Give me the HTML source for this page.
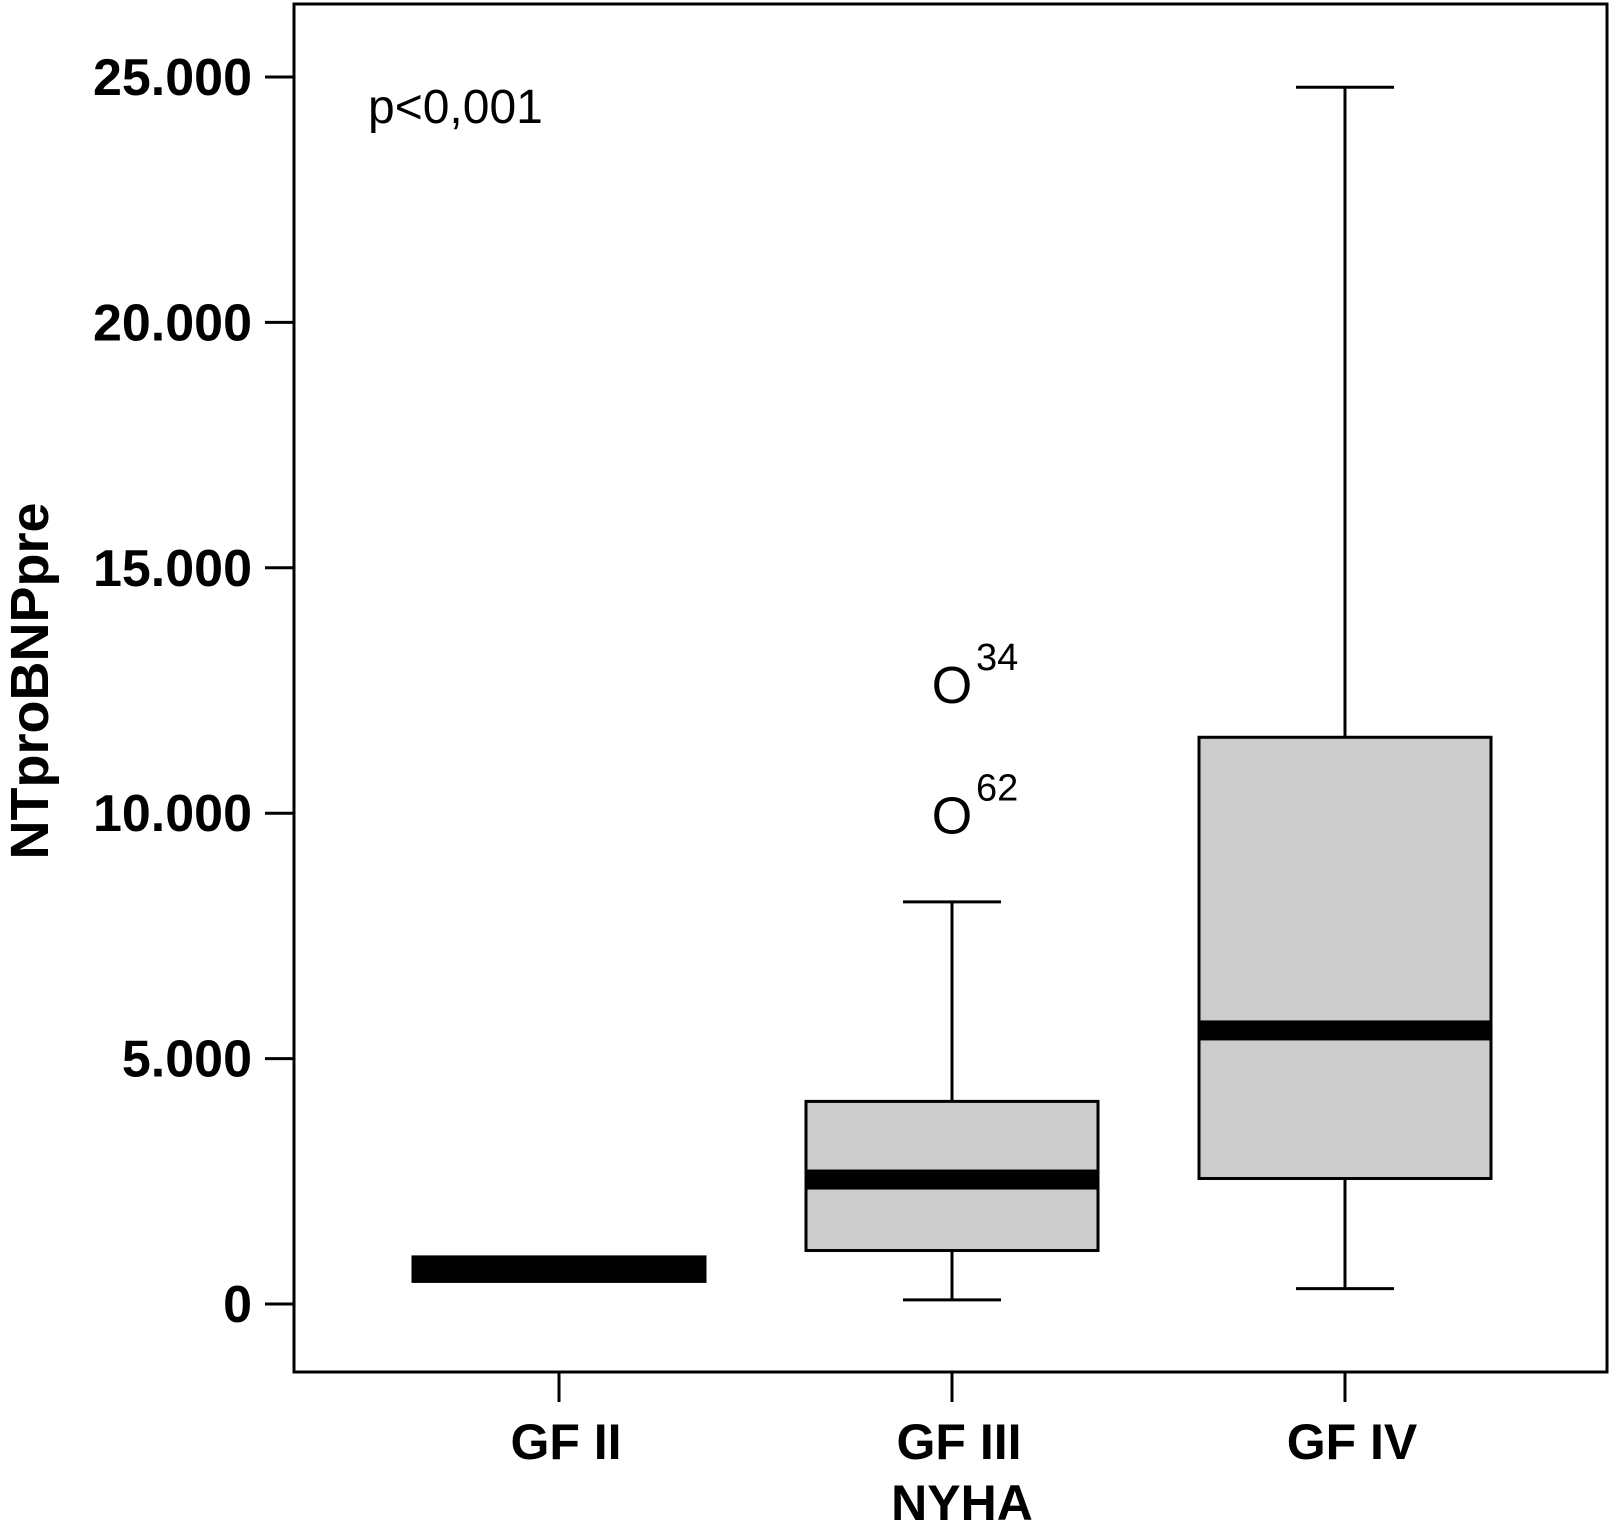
<!DOCTYPE html>
<html><head><meta charset="utf-8"><style>
html,body{margin:0;padding:0;background:#fff;}
svg{display:block;font-family:"Liberation Sans",Arial,sans-serif;}
</style></head><body>
<svg id="chart" width="1611" height="1535" viewBox="0 0 1611 1535">
<rect x="294" y="4" width="1313" height="1368" fill="none" stroke="#000" stroke-width="3"/>
<text x="368" y="123" font-size="48">p&lt;0,001</text>
<text transform="translate(48,681) rotate(-90)" text-anchor="middle" font-size="54" font-weight="bold">NTproBNPpre</text>
<text x="962" y="1520" text-anchor="middle" font-size="50" font-weight="bold">NYHA</text>
<g id="layer"></g>
</svg>
<script>
const categories = ["GF II", "GF III", "GF IV"];
const whiskerLow = [460, 84, 314];
const q1 = [460, 1090, 2557];
const median = [710, 2536, 5574];
const q3 = [960, 4128, 11547];
const whiskerHigh = [960, 8194, 24790];
const outlierValues = [12636, 9975];
const outlierLabels = ["34", "62"];
const outlierCategory = [1, 1];
const yTicks = [0, 5000, 10000, 15000, 20000, 25000];
const yTickLabels = ["0", "5.000", "10.000", "15.000", "20.000", "25.000"];

const NS = "http://www.w3.org/2000/svg";
const g = document.getElementById("layer");
function y(v){ return 1304 - v * (1227/25000); }
function x(i){ return 559 + i * 393; }
function mk(tag, attrs){ const e=document.createElementNS(NS,tag); for(const k in attrs) e.setAttribute(k,attrs[k]); g.appendChild(e); return e; }

yTicks.forEach((t,i)=>{
  const l = mk("line",{x1:265,x2:294,y1:y(t),y2:y(t),stroke:"#000","stroke-width":3});
  
  
  const tx = mk("text",{x:252,y:y(t)+18,"text-anchor":"end","font-size":52,"font-weight":"bold"});
  tx.textContent = yTickLabels[i];
  
  
});

categories.forEach((c,i)=>{
  const cx = x(i);
  const tk = mk("line",{x1:cx,x2:cx,y1:1372,y2:1402,stroke:"#000","stroke-width":3});
  
  
  const lb = mk("text",{x:cx+7,y:1459,"text-anchor":"middle","font-size":50,"font-weight":"bold"});
  lb.textContent = c;
  
  
  const hw = 146;
  if (whiskerHigh[i] > q3[i]) {
    const w1 = mk("line",{x1:cx,x2:cx,y1:y(whiskerHigh[i]),y2:y(q3[i]),stroke:"#000","stroke-width":3});
    
    
    const c1 = mk("line",{x1:cx-49,x2:cx+49,y1:y(whiskerHigh[i]),y2:y(whiskerHigh[i]),stroke:"#000","stroke-width":3});
    
    
  }
  if (whiskerLow[i] < q1[i]) {
    const w2 = mk("line",{x1:cx,x2:cx,y1:y(q1[i]),y2:y(whiskerLow[i]),stroke:"#000","stroke-width":3});
    
    
    const c2 = mk("line",{x1:cx-49,x2:cx+49,y1:y(whiskerLow[i]),y2:y(whiskerLow[i]),stroke:"#000","stroke-width":3});
    
    
  }
  const b = mk("rect",{x:cx-hw,y:y(q3[i]),width:2*hw,height:y(q1[i])-y(q3[i]),fill:(i===0?"#000":"#cccccc"),stroke:"#000","stroke-width":3});
  
  
  const m = mk("rect",{x:cx-hw,y:y(median[i])-10,width:2*hw,height:20,fill:"#000"});
  
  
});

outlierValues.forEach((v,i)=>{
  const cx = x(outlierCategory[i]);
  const o = mk("text",{x:cx,y:y(v)+19,"text-anchor":"middle","font-size":52});
  o.textContent = "O";
  
  
  const s = mk("text",{x:cx+24,y:y(v)-14,"font-size":38});
  s.textContent = outlierLabels[i];
  
  
});
</script>
</body></html>
